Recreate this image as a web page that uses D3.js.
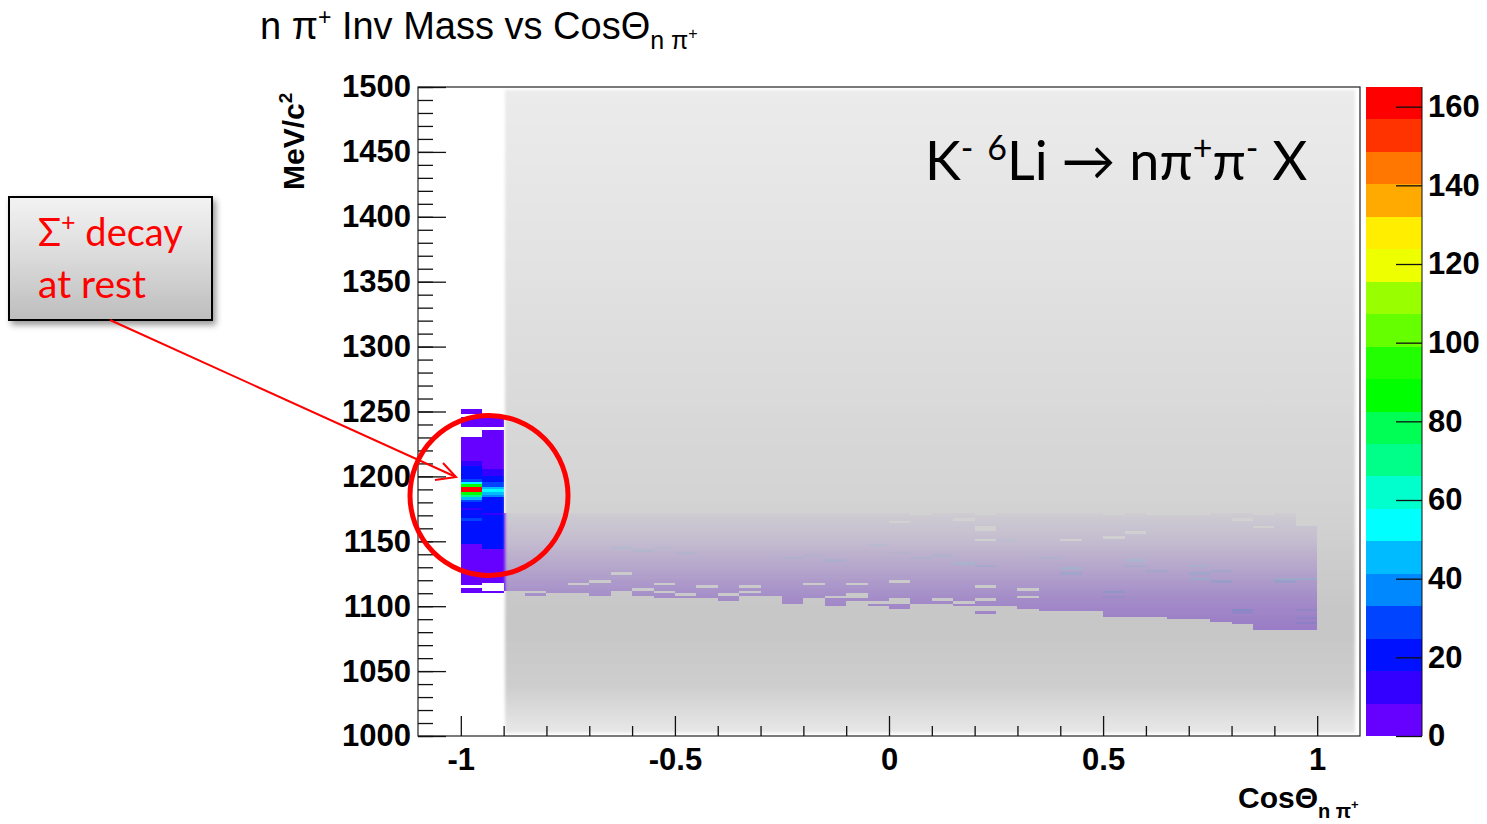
<!DOCTYPE html>
<html>
<head>
<meta charset="utf-8">
<script src="https://cdn.jsdelivr.net/npm/d3@7"></script>
<style>
  body { margin: 0; background: #fff; }
  svg { display: block; font-family: "Liberation Sans", Arial, sans-serif; }
</style>
</head>
<body>
<script>
var w = 1487;
var h = 824;

// axis ticks
var xMajor = [-1, -0.5, 0, 0.5, 1];
var xMajorLabels = ["-1", "-0.5", "0", "0.5", "1"];
var xMinor = [-0.9, -0.8, -0.7, -0.6, -0.4, -0.3, -0.2, -0.1, 0.1, 0.2, 0.3, 0.4, 0.6, 0.7, 0.8, 0.9];
var yMajor = [1000, 1050, 1100, 1150, 1200, 1250, 1300, 1350, 1400, 1450, 1500];
var zTicks = [0, 20, 40, 60, 80, 100, 120, 140, 160];
var zMax = 165;

// ROOT palette, 20 contour levels, low -> high
var paletteColors = ["#6600ff", "#3300ff", "#0011ff", "#0044ff", "#0088ff", "#00bbff", "#00ffff",
  "#00ffcc", "#00ff88", "#00ff55", "#00ff00", "#22ff00", "#66ff00", "#99ff00", "#eeff00",
  "#ffee00", "#ffaa00", "#ff7700", "#ff3300", "#ff0000"];

var binX = 0.05;
var binY = 2;

// cos -1 .. -0.95 : [massLow, massHigh, entries]
var colA = [
  [1110, 1114, 5], [1116, 1148, 5], [1148, 1166, 20], [1166, 1168, 28], [1168, 1174, 20],
  [1174, 1176, 12], [1176, 1180, 20], [1180, 1182, 28], [1182, 1184, 45], [1184, 1186, 68],
  [1186, 1188, 86], [1188, 1192, 160], [1192, 1194, 88], [1194, 1196, 52], [1196, 1198, 28],
  [1198, 1208, 20], [1208, 1212, 12], [1212, 1230, 5], [1238, 1246, 5], [1248, 1252, 5]
];
// cos -0.95 .. -0.9
var colB = [
  [1110, 1112, 5], [1118, 1144, 5], [1144, 1170, 20], [1170, 1172, 12], [1172, 1184, 20],
  [1184, 1186, 36], [1186, 1188, 45], [1188, 1190, 54], [1190, 1192, 45], [1192, 1196, 30],
  [1196, 1200, 20], [1200, 1206, 12], [1206, 1236, 5], [1238, 1246, 5]
];

// cos -0.9 .. 1, one entry per 0.05 column (under the text box)
var bandBottom = [1112, 1108, 1110, 1110, 1108, 1112, 1108, 1106, 1106, 1106, 1104, 1108, 1108,
  1102, 1106, 1100, 1104, 1100, 1098, 1102, 1102, 1100, 1094, 1100, 1098, 1096, 1096, 1096,
  1092, 1092, 1092, 1090, 1090, 1088, 1086, 1082, 1082, 1082];
var bandTop = [1172, 1172, 1172, 1172, 1172, 1172, 1172, 1172, 1172, 1172, 1172, 1172, 1172,
  1172, 1172, 1172, 1172, 1172, 1172, 1172, 1172, 1172, 1172, 1172, 1172, 1172, 1172, 1172,
  1172, 1172, 1172, 1172, 1172, 1172, 1172, 1172, 1172, 1162];
var bandEntries = 4;
// [column, massLow]
var emptyBins = [[1, 1110], [3, 1116], [4, 1118], [5, 1124], [6, 1112], [7, 1116], [7, 1110],
  [8, 1108], [9, 1114], [10, 1108], [11, 1114], [11, 1110], [14, 1116], [15, 1106], [16, 1116],
  [16, 1108], [16, 1106], [17, 1102], [18, 1164], [18, 1118], [18, 1104], [18, 1102], [19, 1170],
  [20, 1104], [21, 1166], [21, 1102], [22, 1170], [22, 1160], [22, 1158], [22, 1150], [22, 1114],
  [22, 1104], [22, 1098], [22, 1096], [24, 1112], [24, 1106], [26, 1150], [28, 1170], [28, 1152],
  [29, 1156], [30, 1170], [31, 1170], [32, 1170], [34, 1166], [35, 1170], [35, 1160]];
// [column, massLow, entries]
var hotBins = [[5, 1144, 20], [6, 1142, 20], [7, 1144, 12], [8, 1140, 20], [13, 1136, 20],
  [14, 1138, 12], [15, 1134, 20], [17, 1146, 20], [18, 1140, 12], [19, 1136, 20], [20, 1138, 20],
  [21, 1132, 28], [22, 1130, 20], [23, 1150, 20], [25, 1136, 20], [26, 1128, 28], [26, 1124, 20],
  [28, 1110, 20], [28, 1106, 12], [29, 1134, 28], [29, 1130, 20], [30, 1126, 20], [32, 1130, 28],
  [32, 1124, 20], [32, 1120, 28], [33, 1126, 20], [33, 1118, 20], [34, 1096, 20], [34, 1094, 12],
  [36, 1120, 28], [36, 1118, 20], [37, 1120, 28], [37, 1096, 12], [37, 1090, 12], [37, 1086, 12]];

// build the bin table
var cells = [];
function addSegments(cosLow, segs) {
  segs.forEach(function(s) {
    for (var m = s[0]; m < s[1]; m += binY) cells.push({ c: cosLow, m: m, n: s[2] });
  });
}
addSegments(-1, colA);
addSegments(-0.95, colB);
bandBottom.forEach(function(lo, i) {
  var cosLow = -0.9 + i * binX;
  for (var m = lo; m < bandTop[i]; m += binY) {
    var empty = emptyBins.some(function(e) { return e[0] === i && e[1] === m; });
    if (empty) continue;
    var hot = hotBins.find(function(e) { return e[0] === i && e[1] === m; });
    cells.push({ c: cosLow, m: m, n: hot ? hot[2] : bandEntries });
  }
});

var xScale = d3.scaleLinear().domain([-1.1, 1.1]).range([418, 1360]);
var yScale = d3.scaleLinear().domain([1000, 1500]).range([736, 87]);
var zColor = d3.scaleQuantize().domain([0, zMax]).range(paletteColors);
var zScale = d3.scaleLinear().domain([0, zMax]).range([736, 87]);

var svg = d3.select("body").append("svg").attr("width", w).attr("height", h);
var defs = svg.append("defs");

// [offset, grey, opacity]
var boxGrad = defs.append("linearGradient").attr("id", "boxGrad")
  .attr("x1", 0).attr("y1", 0).attr("x2", 0).attr("y2", 1);
[[0, 235, 1], [0.3, 225, 1], [0.643, 211, 1], [0.663, 208, 0.97], [0.704, 203, 0.92],
 [0.75, 193, 0.84], [0.793, 183, 0.76], [0.84, 175, 0.71], [0.93, 185, 0.7],
 [1, 222, 0.7]].forEach(function(s) {
  boxGrad.append("stop").attr("offset", s[0])
    .attr("stop-color", d3.rgb(s[1], s[1], s[1]))
    .attr("stop-opacity", s[2]);
});
defs.append("filter").attr("id", "soft")
  .append("feGaussianBlur").attr("stdDeviation", 1.4);

var noteGrad = defs.append("linearGradient").attr("id", "noteGrad")
  .attr("x1", 0).attr("y1", 0).attr("x2", 0).attr("y2", 1);
noteGrad.append("stop").attr("offset", 0).attr("stop-color", "#f3f3f3");
noteGrad.append("stop").attr("offset", 0.5).attr("stop-color", "#dadada");
noteGrad.append("stop").attr("offset", 1).attr("stop-color", "#bdbdbd");
defs.append("filter").attr("id", "shadow")
  .attr("x", "-10%").attr("y", "-10%").attr("width", "130%").attr("height", "140%")
  .append("feDropShadow").attr("dx", 3).attr("dy", 4).attr("stdDeviation", 3)
  .attr("flood-color", "#000").attr("flood-opacity", 0.4);

// histogram cells
svg.append("g")
  .attr("shape-rendering", "crispEdges")
  .selectAll("rect")
  .data(cells)
  .enter()
  .append("rect")
  .attr("x", function(d) { return xScale(d.c); })
  .attr("y", function(d) { return yScale(d.m + binY); })
  .attr("width", function(d) { return xScale(d.c + binX) - xScale(d.c); })
  .attr("height", function(d) { return yScale(d.m) - yScale(d.m + binY); })
  .attr("fill", function(d) { return zColor(d.n); });

// grey text box from the slide
svg.append("rect")
  .attr("x", 505).attr("y", 90)
  .attr("width", 850).attr("height", 643)
  .attr("fill", "url(#boxGrad)")
  .attr("filter", "url(#soft)");

// frame
svg.append("rect")
  .attr("x", 418).attr("y", 87)
  .attr("width", 942).attr("height", 649)
  .attr("fill", "none").attr("stroke", "#222").attr("stroke-width", 1.2);

function styleAxis(g) {
  g.select(".domain").remove();
  g.selectAll("line").attr("stroke", "#111").attr("stroke-width", 1.3);
  g.selectAll("text")
    .attr("font-family", "'Liberation Sans', Arial, sans-serif")
    .attr("font-weight", "bold").attr("font-size", 31).attr("fill", "#000");
}

svg.append("g")
  .attr("transform", "translate(418,0)")
  .call(d3.axisLeft(yScale).tickValues(d3.range(1000, 1501, 10)).tickSize(-15).tickFormat(""))
  .call(styleAxis);
svg.append("g")
  .attr("transform", "translate(418,0)")
  .call(d3.axisLeft(yScale).tickValues(yMajor).tickSize(-28).tickPadding(7).tickFormat(d3.format("d")))
  .call(styleAxis);

svg.append("g")
  .attr("transform", "translate(0,736)")
  .call(d3.axisBottom(xScale).tickValues(xMinor).tickSize(-10).tickFormat(""))
  .call(styleAxis);
svg.append("g")
  .attr("transform", "translate(0,736)")
  .call(d3.axisBottom(xScale).tickValues(xMajor).tickSize(-20).tickPadding(12)
    .tickFormat(function(d, i) { return xMajorLabels[i]; }))
  .call(styleAxis);

// palette
svg.append("g")
  .attr("shape-rendering", "crispEdges")
  .selectAll("rect")
  .data(paletteColors)
  .enter()
  .append("rect")
  .attr("x", 1366)
  .attr("width", 56)
  .attr("y", function(d, i) { return zScale((i + 1) * zMax / paletteColors.length); })
  .attr("height", function(d, i) {
    return zScale(i * zMax / paletteColors.length) - zScale((i + 1) * zMax / paletteColors.length);
  })
  .attr("fill", function(d) { return d; });
svg.append("line")
  .attr("x1", 1422).attr("x2", 1422).attr("y1", 87).attr("y2", 736)
  .attr("stroke", "#111").attr("stroke-width", 1);
svg.append("g")
  .attr("transform", "translate(1422,0)")
  .call(d3.axisRight(zScale).tickValues(zTicks).tickSize(-26).tickPadding(6))
  .call(styleAxis);

// text with super/subscripts: [text, size, dy]
function richText(sel, parts) {
  parts.forEach(function(p) {
    sel.append("tspan").attr("font-size", p[1]).attr("dy", p[2]).text(p[0]);
  });
  return sel;
}

richText(svg.append("text").attr("x", 260).attr("y", 39).attr("fill", "#000"),
  [["n \u03c0", 38, 0], ["+", 23, -14], [" Inv Mass vs Cos\u0398", 38, 14], ["n \u03c0", 25, 10], ["+", 16, -10]]);

richText(svg.append("text").attr("x", 1238).attr("y", 808).attr("font-weight", "bold"),
  [["Cos\u0398", 30, 0], ["n \u03c0", 20, 10], ["+", 13, -9]]);

richText(svg.append("text").attr("transform", "translate(304,190) rotate(-90)").attr("font-weight", "bold"),
  [["MeV/c", 30, 0], ["2", 19, -12]]);

// slide annotations
richText(svg.append("text").attr("x", 925).attr("y", 180)
    .attr("font-family", "Lato, 'Open Sans', sans-serif").attr("fill", "#000"),
  [["K", 54, 0], ["-", 34, -20], [" ", 54, 20], ["6", 34, -20], ["Li \u2192 n\u03c0", 54, 20],
   ["+", 34, -20], ["\u03c0", 54, 20], ["-", 34, -20], [" X", 54, 20]]);

svg.append("rect")
  .attr("x", 9).attr("y", 197).attr("width", 203).attr("height", 123)
  .attr("fill", "url(#noteGrad)").attr("stroke", "#000").attr("stroke-width", 2)
  .attr("filter", "url(#shadow)");
var note = svg.append("g")
  .attr("font-family", "Lato, 'Open Sans', sans-serif").attr("fill", "#ff0000");
richText(note.append("text").attr("x", 38).attr("y", 246),
  [["\u03a3", 38, 0], ["+", 25, -15], [" decay", 38, 15]]);
richText(note.append("text").attr("x", 38).attr("y", 298), [["at rest", 39, 0]]);

svg.append("line")
  .attr("x1", 110).attr("y1", 320).attr("x2", 456).attr("y2", 477)
  .attr("stroke", "#ff0000").attr("stroke-width", 2);
svg.append("path")
  .attr("d", "M443,463 L456,477 L435,480")
  .attr("fill", "none").attr("stroke", "#ff0000").attr("stroke-width", 2);

svg.append("ellipse")
  .attr("cx", 489).attr("cy", 495.5).attr("rx", 79).attr("ry", 80)
  .attr("fill", "none").attr("stroke", "#ff0000").attr("stroke-width", 5);
</script>
</body>
</html>
